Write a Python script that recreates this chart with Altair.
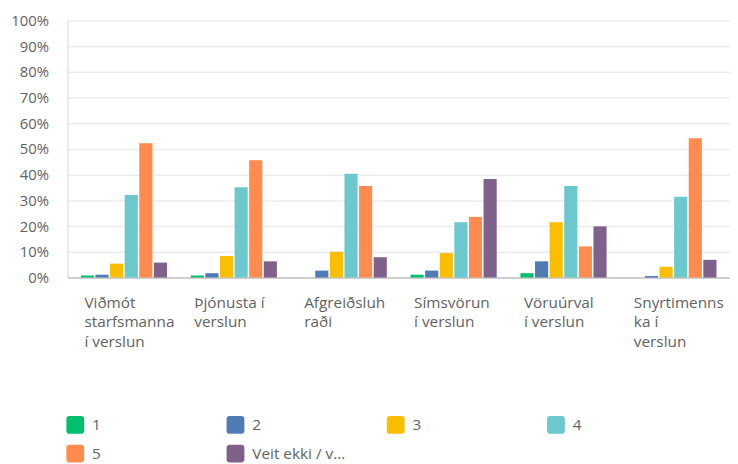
import altair as alt
import pandas as pd

categories = [
    "Viðmót starfsmanna í verslun",
    "Þjónusta í verslun",
    "Afgreiðsluhraði",
    "Símsvörun í verslun",
    "Vöruúrval í verslun",
    "Snyrtimennska í verslun",
]
wrapped = [
    ["Viðmót", "starfsmanna", "í verslun"],
    ["Þjónusta í", "verslun"],
    ["Afgreiðsluh", "raði"],
    ["Símsvörun", "í verslun"],
    ["Vöruúrval", "í verslun"],
    ["Snyrtimenns", "ka í", "verslun"],
]
series = ["1", "2", "3", "4", "5", "Veit ekki / v..."]
colors = ["#00BF6F", "#507CB6", "#F9BE00", "#6BC8CD", "#FF8B4F", "#7F628B"]

s1 = [0.8, 0.8, 0.0, 1.1, 1.7, 0.0]
s2 = [1.1, 1.7, 2.7, 2.7, 6.3, 0.6]
s3 = [5.4, 8.4, 10.0, 9.5, 21.5, 4.2]
s4 = [32.1, 35.1, 40.4, 21.5, 35.6, 31.4]
s5 = [52.2, 45.6, 35.6, 23.6, 12.1, 54.2]
s6 = [5.8, 6.3, 7.9, 38.3, 19.9, 6.9]
all_series = [s1, s2, s3, s4, s5, s6]

rows = []
for name, vals in zip(series, all_series):
    for cat, v in zip(categories, vals):
        rows.append({"cat": cat, "series": name, "value": v / 100.0})
df = pd.DataFrame(rows)

cat_js = "[" + ",".join("'" + c + "'" for c in categories) + "]"
wrap_js = "[" + ",".join("[" + ",".join("'" + w + "'" for w in ws) + "]" for ws in wrapped) + "]"
label_expr = f"{wrap_js}[indexof({cat_js}, datum.label)]"

FONT = "Open Sans"
rounded = ("M -0.65,-1 L 0.65,-1 Q 1,-1 1,-0.65 L 1,0.65 Q 1,1 0.65,1 "
           "L -0.65,1 Q -1,1 -1,0.65 L -1,-0.65 Q -1,-1 -0.65,-1 Z")

chart = alt.Chart(df).mark_bar().encode(
    x=alt.X("cat:N", sort=categories,
            scale=alt.Scale(paddingInner=0.216, paddingOuter=0.123),
            axis=alt.Axis(title=None, labelAngle=0, labelAlign="left", labelBaseline="top",
                          labelOffset=-40, labelPadding=18, ticks=False, tickSize=0,
                          labelExpr=label_expr, labelLineHeight=20, labelFontSize=15.5,
                          labelColor="#626262", labelFont=FONT, domainColor="#cfcfcf",
                          domainWidth=2, grid=False, labelLimit=200)),
    xOffset=alt.XOffset("series:N", sort=series, scale=alt.Scale(paddingInner=0.1)),
    y=alt.Y("value:Q", scale=alt.Scale(domain=[0, 1], nice=False),
            axis=alt.Axis(title=None, format=".0%", values=[i / 10 for i in range(11)],
                          labelFontSize=15, labelColor="#626262", labelFont=FONT,
                          labelPadding=19, ticks=False, tickSize=0, domainColor="#e4e4e4",
                          domainWidth=1.5, gridColor="#ececec", gridWidth=1.5)),
    color=alt.Color("series:N", sort=series,
                    scale=alt.Scale(domain=series, range=colors),
                    legend=alt.Legend(title=None, orient="none", legendX=-1, legendY=400,
                                      columns=4, direction="horizontal", gridAlign="all",
                                      columnPadding=41, rowPadding=11, symbolType=rounded,
                                      symbolSize=324, symbolStrokeWidth=0, labelOffset=8,
                                      labelFontSize=15.5, labelColor="#626262", labelFont=FONT)),
).properties(
    width=670, height=260,
    autosize=alt.AutoSizeParams(type="none"),
    padding={"left": 60, "top": 10, "right": 0, "bottom": 186},
).configure_view(stroke=None)

chart.save("out.html", embed_options={"renderer": "svg", "actions": False})
